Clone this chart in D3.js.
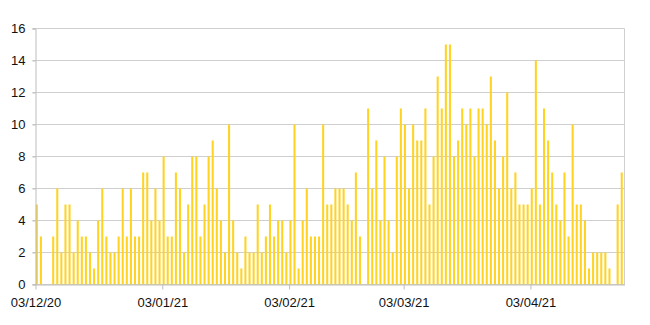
<!DOCTYPE html>
<html>
<head>
    <meta charset="utf-8">
    <title>D3.js</title>
    <style>
        body { margin: 0; background: #fff; }
        text { font-family: "Liberation Sans", Arial, sans-serif; font-size: 13px; fill: #111; }
        .bar { fill: #ffd320; }
    </style>
</head>
<body>
    <svg width="650" height="325"></svg>
    <script src="https://cdnjs.cloudflare.com/ajax/libs/d3/7.8.5/d3.min.js"></script>
    <script>
        // first day of the series, one value per day after it
        const startDay = "2020-12-03";
        const values = [
            5, 3, 0, 0, 3, 6, 2, 5, 5, 2,
            4, 3, 3, 2, 1, 4, 6, 3, 2, 2,
            3, 6, 3, 6, 3, 3, 7, 7, 4, 6,
            4, 8, 3, 3, 7, 6, 2, 5, 8, 8,
            3, 5, 8, 9, 6, 4, 2, 10, 4, 2,
            1, 3, 2, 2, 5, 2, 3, 5, 3, 4,
            4, 2, 4, 10, 1, 4, 6, 3, 3, 3,
            10, 5, 5, 6, 6, 6, 5, 4, 7, 3,
            0, 11, 6, 9, 4, 8, 4, 2, 8, 11,
            10, 6, 10, 9, 9, 11, 5, 8, 13, 11,
            15, 15, 8, 9, 11, 10, 11, 8, 11, 11,
            10, 13, 9, 6, 8, 12, 6, 7, 5, 5,
            5, 6, 14, 5, 11, 9, 7, 5, 4, 7,
            3, 10, 5, 5, 4, 1, 2, 2, 2, 2,
            1, 0, 5, 7
        ];
        const xTicks = ["2020-12-03", "2021-01-03", "2021-02-03", "2021-03-03", "2021-04-03"];
        const yTicks = [0, 2, 4, 6, 8, 10, 12, 14, 16];

        const parse = d3.utcParse("%Y-%m-%d");
        const start = parse(startDay);
        const data = values.map((v, i) => ({ date: d3.utcDay.offset(start, i), value: v }));

        const svg = d3.select("svg");
        const margin = { left: 35.5, right: 25.5, top: 28.5, bottom: 40.5 };
        const width = +svg.attr("width"), height = +svg.attr("height");

        const x = d3.scaleUtc()
            .domain([start, d3.utcDay.offset(start, values.length)])
            .range([margin.left, width - margin.right]);
        const y = d3.scaleLinear()
            .domain([0, 16])
            .range([height - margin.bottom, margin.top]);

        // gridlines
        svg.append("g")
            .selectAll("line")
            .data(yTicks)
            .join("line")
            .attr("x1", margin.left - 3).attr("x2", width - margin.right)
            .attr("y1", d => y(d)).attr("y2", d => y(d))
            .attr("stroke", "#cfcfcf");

        // right border
        svg.append("line")
            .attr("x1", width - margin.right).attr("x2", width - margin.right)
            .attr("y1", y(16)).attr("y2", y(0))
            .attr("stroke", "#cfcfcf");

        // bars
        const dayW = x(d3.utcDay.offset(start, 1)) - x(start);
        svg.append("g")
            .selectAll("rect")
            .data(data)
            .join("rect")
            .attr("class", "bar")
            .attr("x", d => x(d.date) + 0.3)
            .attr("width", dayW * 0.5)
            .attr("y", d => y(d.value))
            .attr("height", d => y(0) - y(d.value));

        // axes
        const yAxis = d3.axisLeft(y).tickValues(yTicks).tickSize(3).tickPadding(7);
        const gy = svg.append("g")
            .attr("transform", "translate(" + margin.left + ",0)")
            .call(yAxis);
        gy.selectAll("line, path").attr("stroke", "#bdbdbd");

        const xAxis = d3.axisBottom(x)
            .tickValues(xTicks.map(parse))
            .tickFormat(d3.utcFormat("%d/%m/%y"))
            .tickSize(5).tickPadding(8).tickSizeOuter(0);
        const gx = svg.append("g")
            .attr("transform", "translate(0," + y(0) + ")")
            .call(xAxis);
        gx.selectAll("line, path").attr("stroke", "#bdbdbd");
        svg.selectAll(".tick text").style("font-size", "13px").style("font-family", "'Liberation Sans', Arial, sans-serif").attr("fill", "#111");
    </script>
</body>
</html>
